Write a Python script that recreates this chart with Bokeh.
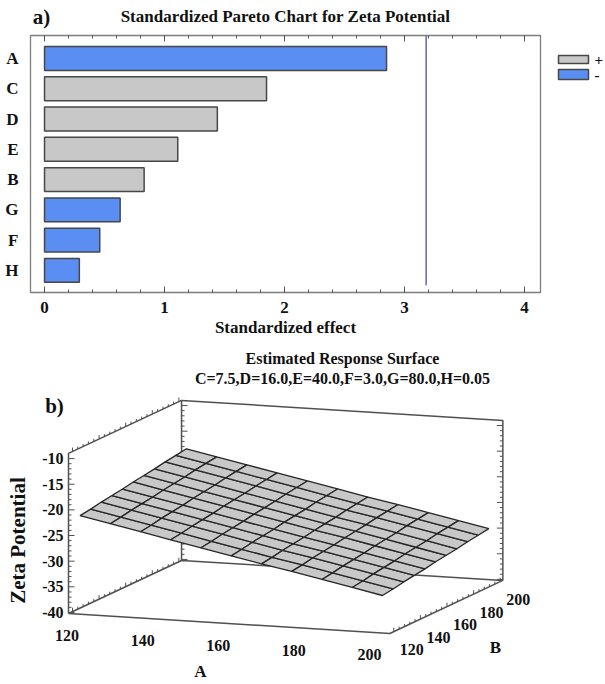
import math
from bokeh.plotting import figure
from bokeh.models import Range1d, FixedTicker, LinearAxis, Label
from bokeh.layouts import column, row
from bokeh.embed import file_html
from bokeh.resources import INLINE
from bokeh.core.properties import value
from bokeh.models import ColumnDataSource

FONT = "Liberation Serif"

# ---------------- data: a) Pareto chart ----------------
factors = ["A", "C", "D", "E", "B", "G", "F", "H"]
effects = [2.85, 1.85, 1.44, 1.11, 0.83, 0.63, 0.46, 0.29]
signs = ["-", "+", "+", "+", "+", "-", "-", "-"]
critical_value = 3.18
x_ticks = [0, 1, 2, 3, 4]
legend_labels = ["+", "-"]
pareto_title = "Standardized Pareto Chart for Zeta Potential"

# ---------------- data: b) response surface ----------------
A_levels = [120, 128, 136, 144, 152, 160, 168, 176, 184, 192, 200]
B_levels = [120, 128, 136, 144, 152, 160, 168, 176, 184, 192, 200]
# rows: B level, columns: A level
zeta_grid = [
    [-21.4, -22.6, -23.8, -25.0, -26.2, -27.4, -28.6, -29.7, -30.9, -32.1, -33.3],
    [-21.1, -22.3, -23.5, -24.7, -25.9, -27.1, -28.3, -29.4, -30.6, -31.8, -33.0],
    [-20.7, -21.9, -23.1, -24.3, -25.5, -26.7, -27.9, -29.0, -30.2, -31.4, -32.6],
    [-20.4, -21.6, -22.8, -24.0, -25.2, -26.4, -27.6, -28.7, -29.9, -31.1, -32.3],
    [-20.1, -21.3, -22.5, -23.7, -24.9, -26.1, -27.3, -28.4, -29.6, -30.8, -32.0],
    [-19.7, -20.9, -22.1, -23.3, -24.5, -25.7, -26.9, -28.0, -29.2, -30.4, -31.6],
    [-19.4, -20.6, -21.8, -23.0, -24.2, -25.4, -26.6, -27.7, -28.9, -30.1, -31.3],
    [-19.1, -20.3, -21.5, -22.7, -23.9, -25.1, -26.3, -27.4, -28.6, -29.8, -31.0],
    [-18.7, -19.9, -21.1, -22.3, -23.5, -24.7, -25.9, -27.0, -28.2, -29.4, -30.6],
    [-18.4, -19.6, -20.8, -22.0, -23.2, -24.4, -25.6, -26.7, -27.9, -29.1, -30.3],
    [-18.1, -19.3, -20.5, -21.7, -22.9, -24.1, -25.3, -26.4, -27.6, -28.8, -30.0],
]
z_ticks = [-10, -15, -20, -25, -30, -35, -40]
A_ticks = [120, 140, 160, 180, 200]
B_ticks = [120, 140, 160, 180, 200]
surface_title = "Estimated Response Surface"
surface_cond = "C=7.5,D=16.0,E=40.0,F=3.0,G=80.0,H=0.05"

BLUE = "#5b8ef2"
GRAY = "#c8c8c8"
EDGE = "#474747"
FRAME = "#7d7d7d"
INK = "#111111"


def noalign(p):
    if "frame_align" in p.properties():
        p.frame_align = False
    return p


def blank(w, h):
    p = figure(width=w, height=h, x_range=Range1d(0, w), y_range=Range1d(h, 0),
               output_backend="svg", toolbar_location=None,
               x_axis_location=None, y_axis_location=None, min_border=0)
    p.grid.visible = False
    p.outline_line_color = None
    return noalign(p)


# ================= header of a) =================
head = blank(605, 33)
head.text(x=[41, 285], y=[16, 16], text=["a)", pareto_title],
          text_font=value(FONT), text_font_style="bold",
          text_font_size=["21px", "17px"], text_align="center",
          text_baseline="middle", text_color=INK)

# ================= a) Pareto =================
n = len(factors)
ypos = [n - i for i in range(n)]
src_pos = ColumnDataSource(dict(
    y=[y for y, s in zip(ypos, signs) if s == "+"],
    v=[e for e, s in zip(effects, signs) if s == "+"]))
src_neg = ColumnDataSource(dict(
    y=[y for y, s in zip(ypos, signs) if s == "-"],
    v=[e for e, s in zip(effects, signs) if s == "-"]))

pa = figure(width=543, height=313, x_range=Range1d(-0.117, 4.133),
            y_range=Range1d(0.27, 8.76), output_backend="svg",
            toolbar_location=None, min_border_left=30, min_border_right=3,
            min_border_top=2, min_border_bottom=54)
noalign(pa)
pa.grid.visible = False
pa.outline_line_color = FRAME
pa.outline_line_width = 1.3

pa.hbar(y="y", right="v", left=0, height=0.79, source=src_pos,
        fill_color=GRAY, line_color=EDGE, line_width=1.5)
pa.hbar(y="y", right="v", left=0, height=0.79, source=src_neg,
        fill_color=BLUE, line_color=EDGE, line_width=1.5)
pa.segment(x0=[critical_value], x1=[critical_value], y0=[0.51], y1=[8.76],
           line_color="#5a5aa0", line_width=1.4)

minor = [i / 5 for i in range(0, 5 * x_ticks[-1] + 1)]
xa = pa.xaxis[0]
xa.ticker = FixedTicker(ticks=x_ticks, minor_ticks=minor)
xa.axis_label = "Standardized effect"
xa.axis_label_text_font = FONT
xa.axis_label_text_font_style = "bold"
xa.axis_label_text_font_size = "17px"
xa.axis_label_standoff = 2
xa.major_label_text_font = FONT
xa.major_label_text_font_style = "bold"
xa.major_label_text_font_size = "17px"
xa.major_label_text_color = INK
xa.axis_label_text_color = INK
xa.major_label_standoff = 9
xa.major_tick_in = 6
xa.major_tick_out = 0
xa.minor_tick_in = 3
xa.minor_tick_out = 0
xa.axis_line_color = FRAME
xa.major_tick_line_color = "#555555"
xa.minor_tick_line_color = "#555555"

top = LinearAxis(ticker=FixedTicker(ticks=x_ticks, minor_ticks=minor),
                 major_label_text_font_size="1px", major_label_text_color=None,
                 major_label_standoff=0,
                 major_tick_in=6, major_tick_out=0, minor_tick_in=3,
                 minor_tick_out=0, axis_line_color=FRAME,
                 major_tick_line_color="#555555", minor_tick_line_color="#555555")
pa.add_layout(top, "above")

ya = pa.yaxis[0]
ya.ticker = FixedTicker(ticks=ypos, minor_ticks=[])
ya.major_label_overrides = {y: f for y, f in zip(ypos, factors)}
ya.major_tick_in = 0
ya.major_tick_out = 0
ya.axis_line_color = FRAME
ya.major_label_standoff = 12
ya.major_label_text_font = FONT
ya.major_label_text_font_style = "bold"
ya.major_label_text_font_size = "17px"
ya.major_label_text_color = INK

# legend panel
leg = blank(62, 313)
leg.quad(left=[15, 15], right=[45, 45], top=[22, 36], bottom=[30, 46],
         fill_color=[GRAY, BLUE], line_color=EDGE, line_width=1.5)
leg.text(x=[51, 51], y=[26, 41], text=legend_labels, text_font=value(FONT),
         text_font_style="bold", text_font_size="15px", text_align="left",
         text_baseline="middle", text_color=INK)

# ================= b) response surface =================
box_A = (118, 203)
box_B = (117, 202)
box_Z = (-40.2, -9.0)


def proj(a, b, z):
    x = 68 + 3.78 * (a - box_A[0]) + 1.33 * (b - box_B[0])
    y = 267 + 0.235 * (a - box_A[0]) - 0.624 * (b - box_B[0]) - 5.13 * (z - box_Z[0])
    return x, y


pb = blank(605, 336)

a0, a1 = box_A
b0, b1 = box_B
z0, z1 = box_Z
edges = [
    [(a0, b0, z0), (a1, b0, z0), (a1, b1, z0), (a0, b1, z0), (a0, b0, z0)],
    [(a0, b0, z0), (a0, b0, z1), (a0, b1, z1), (a1, b1, z1), (a1, b1, z0)],
    [(a0, b1, z0), (a0, b1, z1)],
]
exs, eys = [], []
for e in edges:
    pts = [proj(*p) for p in e]
    exs.append([p[0] for p in pts])
    eys.append([p[1] for p in pts])
pb.multi_line(exs, eys, line_color="#505050", line_width=1.5)

# tick marks on box edges
txs, tys = [], []
for zt in range(-40, -9):
    ln = 6 if zt in z_ticks else 3
    for (a, b, d) in [(a0, b0, 1), (a0, b1, 1), (a1, b1, -1)]:
        x, y = proj(a, b, zt)
        txs.append([x, x + d * ln])
        tys.append([y, y])
for bt in range(120, 201, 4):
    ln = 4 if bt in B_ticks else 2.5
    for (a, z) in [(a0, z0), (a0, z1), (a1, z0)]:
        x, y = proj(a, bt, z)
        txs.append([x, x])
        tys.append([y, y - ln])
pb.multi_line(txs, tys, line_color="#505050", line_width=1)

# surface cells
pxs, pys = [], []
for i in range(len(B_levels) - 1):
    for j in range(len(A_levels) - 1):
        corners = [(A_levels[j], B_levels[i], zeta_grid[i][j]),
                   (A_levels[j + 1], B_levels[i], zeta_grid[i][j + 1]),
                   (A_levels[j + 1], B_levels[i + 1], zeta_grid[i + 1][j + 1]),
                   (A_levels[j], B_levels[i + 1], zeta_grid[i + 1][j])]
        pts = [proj(*c) for c in corners]
        pxs.append([p[0] for p in pts])
        pys.append([p[1] for p in pts])
pb.patches(pxs, pys, fill_color=GRAY, line_color="#262626", line_width=1.3)

# tick labels
zl = [proj(a0, b0, z) for z in z_ticks]
pb.text(x=[p[0] - 5 for p in zl], y=[p[1] for p in zl], text=[str(z) for z in z_ticks],
        text_font=value(FONT), text_font_style="bold", text_font_size="16px",
        text_align="right", text_baseline="middle", text_color=INK)
al = [proj(a, b0, z0) for a in A_ticks]
pb.text(x=[p[0] - 9 for p in al], y=[p[1] + 22 for p in al], text=[str(a) for a in A_ticks],
        text_font=value(FONT), text_font_style="bold", text_font_size="16px",
        text_align="center", text_baseline="middle", text_color=INK)
bl = [proj(a1, b, z0) for b in B_ticks]
pb.text(x=[p[0] + 18 for p in bl], y=[p[1] + 18 for p in bl], text=[str(b) for b in B_ticks],
        text_font=value(FONT), text_font_style="bold", text_font_size="16px",
        text_align="center", text_baseline="middle", text_color=INK)

pb.text(x=[342, 342, 54, 200, 495], y=[12, 32, 59, 325, 301],
        text=[surface_title, surface_cond, "b)", "A", "B"],
        text_font=value(FONT), text_font_style="bold",
        text_font_size=["16px", "16px", "21px", "17px", "17px"],
        text_align="center", text_baseline="middle", text_color=INK)
pb.add_layout(Label(x=17, y=194, text="Zeta Potential", text_font=FONT,
                    text_font_style="bold", text_font_size="21px", angle=90,
                    angle_units="deg", text_align="center", text_baseline="middle",
                    text_color=INK))

layout = column(head, row(pa, leg, spacing=0), pb, spacing=0)
open("out.html", "w").write(file_html(layout, INLINE))
